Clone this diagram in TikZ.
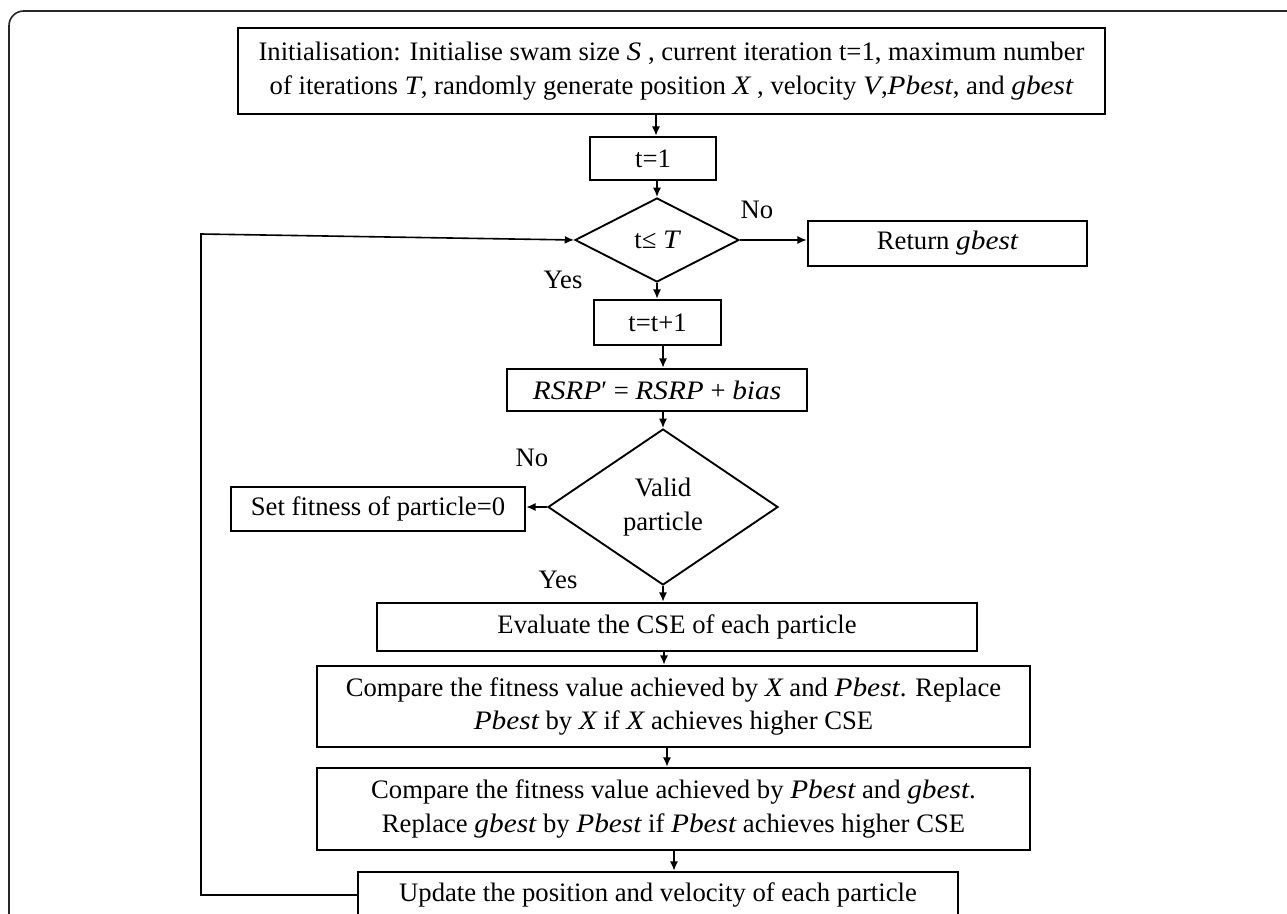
\documentclass[tikz,border=0pt]{standalone}
\usepackage{fontspec}
\setmainfont{Liberation Serif}
\newfontfamily\mvfont[FakeStretch=1.1]{Liberation Serif}
\newcommand\mv[1]{{\mvfont\itshape #1}}
\usetikzlibrary{arrows.meta,shapes.geometric}
\begin{document}
\begin{tikzpicture}[x=0.75pt,y=-0.75pt,
  font=\fontsize{20}{25}\selectfont,
  box/.style={draw, line width=1.8pt, inner sep=0pt, align=center},
  dia/.style={draw, diamond, line width=1.4pt, inner sep=0pt, align=center},
  arr/.style={line width=1.2pt, -{Latex[length=7pt,width=6pt]}},
  lbl/.style={inner sep=0pt},
  frame/.style={line width=1.2pt, black!85, rounded corners=11pt}]
\useasboundingbox (0,0) rectangle (1287,913);
\fill[white] (0,0) rectangle (1287,913);
\clip (0,0) rectangle (1287,913);
% frame
\coordinate (f1) at (9,940);
\coordinate (f2) at (9,11);
\coordinate (f3) at (1310,11);
\draw[frame] (f1) -- (f2) -- (f3);
% nodes
\node[box, minimum width={867*0.75pt}, minimum height={86*0.75pt}] (init) at (671.5,71) {Initialisation: Initialise swam size \mv{S} , current iteration t=1, maximum number\\ of iterations \mv{T}, randomly generate position \mv{X} , velocity \mv{V},\mv{Pbest}, and \mv{gbest}};
\node[box, minimum width={126*0.75pt}, minimum height={43*0.75pt}] (t1) at (653,158.5) {t=1};
\node[dia, minimum width={164*0.75pt}, minimum height={84*0.75pt}] (d1) at (657,240) {t≤ \mv{T}};
\node[box, minimum width={279*0.75pt}, minimum height={45*0.75pt}] (ret) at (947.5,243.5) {Return \mv{gbest}};
\node[box, minimum width={127*0.75pt}, minimum height={45*0.75pt}] (t2) at (657.5,322.5) {t=t+1};
\node[box, minimum width={300*0.75pt}, minimum height={42*0.75pt}] (rsrp) at (657,390) {\mv{RSRP}′ = \mv{RSRP} + \mv{bias}};
\node[dia, minimum width={230*0.75pt}, minimum height={156*0.75pt}] (valid) at (663,507) {Valid\\particle};
\node[box, minimum width={294*0.75pt}, minimum height={44*0.75pt}] (setfit) at (378,509) {Set fitness of particle=0};
\node[box, minimum width={600*0.75pt}, minimum height={48*0.75pt}] (eval) at (677,627) {Evaluate the CSE of each particle};
\node[box, minimum width={713*0.75pt}, minimum height={81*0.75pt}] (cmp1) at (673.5,706.5) {Compare the fitness value achieved by \mv{X} and \mv{Pbest}. Replace\\ \mv{Pbest} by \mv{X} if \mv{X} achieves higher CSE};
\node[box, minimum width={713*0.75pt}, minimum height={82*0.75pt}] (cmp2) at (673.5,809) {Compare the fitness value achieved by \mv{Pbest} and \mv{gbest}.\\ Replace \mv{gbest} by \mv{Pbest} if \mv{Pbest} achieves higher CSE};
\node[box, minimum width={600*0.75pt}, minimum height={46*0.75pt}] (update) at (658,895) {Update the position and velocity of each particle};
% labels
\node[lbl] (no1) at (757,210) {No};
\node[lbl] (yes1) at (563,280) {Yes};
\node[lbl] (no2) at (532,458) {No};
\node[lbl] (yes2) at (558,580) {Yes};
% spine coordinates
\coordinate (s1) at (656,0);
\coordinate (s3) at (663,0);
\coordinate (s4) at (664,0);
\coordinate (s5) at (667,0);
\coordinate (s6) at (674,0);
% connectors
\draw[arr] (init.south -| s1) -- (t1.north -| s1);
\draw[arr] (t1.south -| d1.north) -- (d1.north);
\draw[arr] (d1.east) -- (d1.east -| ret.west);
\draw[arr] (d1.south) -- (t2.north -| d1.south);
\draw[arr] (t2.south -| s3) -- (rsrp.north -| s3);
\draw[arr] (rsrp.south -| valid.north) -- (valid.north);
\draw[arr] (valid.west) -- (valid.west -| setfit.east);
\draw[arr] (valid.south) -- (eval.north -| valid.south);
\draw[arr] (eval.south -| s4) -- (cmp1.north -| s4);
\draw[arr] (cmp1.south -| s5) -- (cmp2.north -| s5);
\draw[arr] (cmp2.south -| s6) -- (update.north -| s6);
\coordinate (lc1) at (201,895);
\coordinate (lc2) at (201,234);
\draw[arr] (update.west) -- (lc1) -- (lc2) -- (d1.west);
\end{tikzpicture}
\end{document}
